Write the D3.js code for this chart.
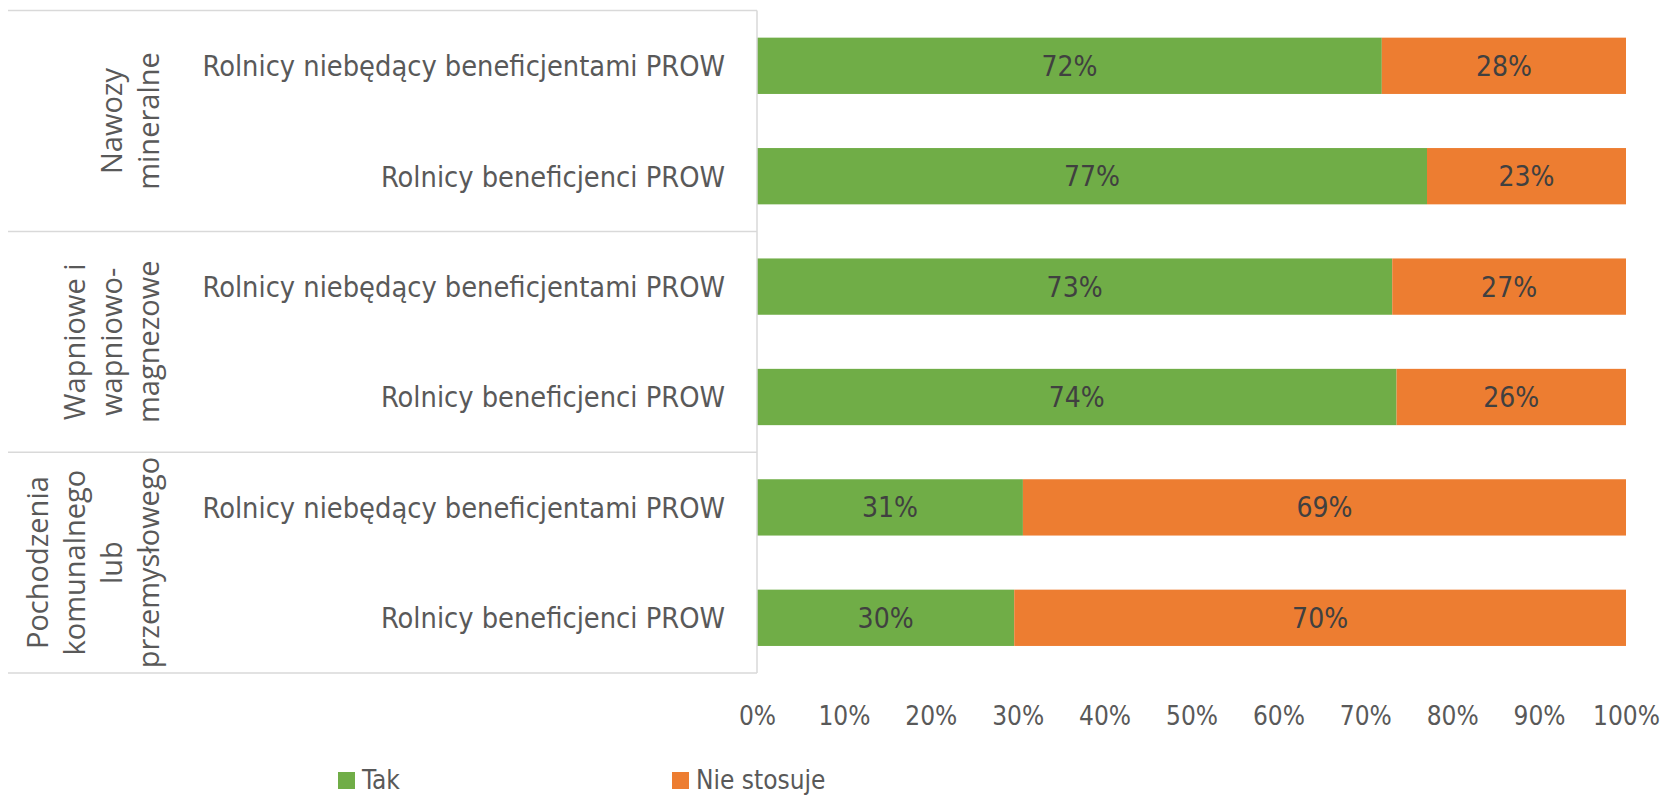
<!DOCTYPE html>
<html>
<head>
<meta charset="utf-8">
<script src="https://cdn.jsdelivr.net/npm/d3@7"></script>
<style>
  body { margin: 0; background: #fff; }
  svg text { font-family: "DejaVu Sans Condensed", "Liberation Sans Narrow", sans-serif; }
</style>
</head>
<body>
<div id="chart"></div>
<script>
// data
const groupLines = [
    ["Nawozy", "mineralne"],
    ["Wapniowe i", "wapniowo-", "magnezowe"],
    ["Pochodzenia", "komunalnego", "lub", "przemysłowego"]
];
const categories = [
    "Rolnicy niebędący beneficjentami PROW",
    "Rolnicy beneficjenci PROW",
    "Rolnicy niebędący beneficjentami PROW",
    "Rolnicy beneficjenci PROW",
    "Rolnicy niebędący beneficjentami PROW",
    "Rolnicy beneficjenci PROW"
];
const takValues = [0.719, 0.771, 0.731, 0.736, 0.306, 0.296];
const nieValues = [0.281, 0.229, 0.269, 0.264, 0.694, 0.704];
const seriesNames = ["Tak", "Nie stosuje"];
const tickValues = [0, 0.1, 0.2, 0.3, 0.4, 0.5, 0.6, 0.7, 0.8, 0.9, 1];

const colors = ["#70AD47", "#ED7D31"];
const W = 1665, H = 797;
const plot = { left: 757, right: 1626, top: 10.6, bottom: 673 };

const svg = d3.select("#chart")
    .append("svg")
    .attr("width", W)
    .attr("height", H);

const x = d3.scaleLinear()
    .domain([0, 1])
    .range([plot.left, plot.right]);

const y = d3.scaleBand()
    .domain(d3.range(categories.length))
    .range([plot.top, plot.bottom])
    .paddingInner(0.49)
    .paddingOuter(0.245);

const rows = categories.map((c, i) => ({ i, tak: takValues[i], nie: nieValues[i] }));

// stacked bars
const stack = d3.stack().keys(["tak", "nie"])(rows);

const layer = svg.selectAll("g.layer")
    .data(stack)
    .enter().append("g")
    .attr("class", "layer")
    .style("fill", (d, i) => colors[i]);

layer.selectAll("rect")
    .data(d => d)
    .enter().append("rect")
    .attr("x", d => x(d[0]))
    .attr("y", d => y(d.data.i))
    .attr("width", d => x(d[1]) - x(d[0]))
    .attr("height", y.bandwidth());

layer.selectAll("text")
    .data(d => d)
    .enter().append("text")
    .attr("x", d => (x(d[0]) + x(d[1])) / 2)
    .attr("y", d => y(d.data.i) + y.bandwidth() / 2)
    .attr("dy", "0.36em")
    .style("text-anchor", "middle")
    .style("fill", "#404040")
    .style("font-size", "28px")
    .text(d => d3.format(".0%")(d[1] - d[0]));

// category axis frame
const step = y.step();
const lineColor = "#d9d9d9";
const boundaries = [0, 2, 4, 6].map(k => plot.top + k * step);

svg.selectAll("line.sep")
    .data(boundaries)
    .enter().append("line")
    .attr("class", "sep")
    .attr("x1", 8)
    .attr("x2", plot.left)
    .attr("y1", d => d)
    .attr("y2", d => d)
    .style("stroke", lineColor)
    .style("stroke-width", 1.5);

svg.append("line")
    .attr("x1", plot.left)
    .attr("x2", plot.left)
    .attr("y1", plot.top)
    .attr("y2", plot.bottom)
    .style("stroke", lineColor)
    .style("stroke-width", 1.5);

// category labels
svg.selectAll("text.cat")
    .data(categories)
    .enter().append("text")
    .attr("class", "cat")
    .attr("x", 725)
    .attr("y", (d, i) => y(i) + y.bandwidth() / 2)
    .attr("dy", "0.36em")
    .style("text-anchor", "end")
    .style("fill", "#595959")
    .style("font-size", "28.7px")
    .text(d => d);

// group labels (rotated)
const lineGap = 37;
const groupG = svg.selectAll("g.grp")
    .data(groupLines)
    .enter().append("g")
    .attr("class", "grp")
    .attr("transform", (d, i) => `translate(0,${plot.top + (2 * i + 1) * step})`);

groupG.selectAll("text")
    .data(d => d.map((t, j) => ({ t, j, n: d.length })))
    .enter().append("text")
    .attr("transform", d => `translate(${149 - (d.n - 1 - d.j) * lineGap},0) rotate(-90)`)
    .attr("dy", "0.36em")
    .style("text-anchor", "middle")
    .style("font-family", "'Open Sans', sans-serif")
    .style("fill", "#595959")
    .style("font-size", "29px")
    .text(d => d.t);

// x axis
const xAxis = svg.append("g")
    .attr("transform", `translate(0,${plot.bottom})`)
    .call(d3.axisBottom(x)
        .tickValues(tickValues)
        .tickSize(0)
        .tickPadding(34)
        .tickFormat(d3.format(".0%")));

xAxis.select(".domain").remove();
xAxis.selectAll("text")
    .style("font-family", "'DejaVu Sans Condensed', sans-serif")
    .style("font-size", "26px")
    .style("fill", "#595959");

// legend
const legendX = [338, 672];
const legend = svg.selectAll("g.legend")
    .data(seriesNames)
    .enter().append("g")
    .attr("class", "legend")
    .attr("transform", (d, i) => `translate(${legendX[i]},780)`);

legend.append("rect")
    .attr("x", 0)
    .attr("y", -8)
    .attr("width", 17)
    .attr("height", 17)
    .style("fill", (d, i) => colors[i]);

legend.append("text")
    .attr("x", 24)
    .attr("y", 0)
    .attr("dy", "0.36em")
    .style("fill", "#595959")
    .style("font-size", "26px")
    .text(d => d);
</script>
</body>
</html>
